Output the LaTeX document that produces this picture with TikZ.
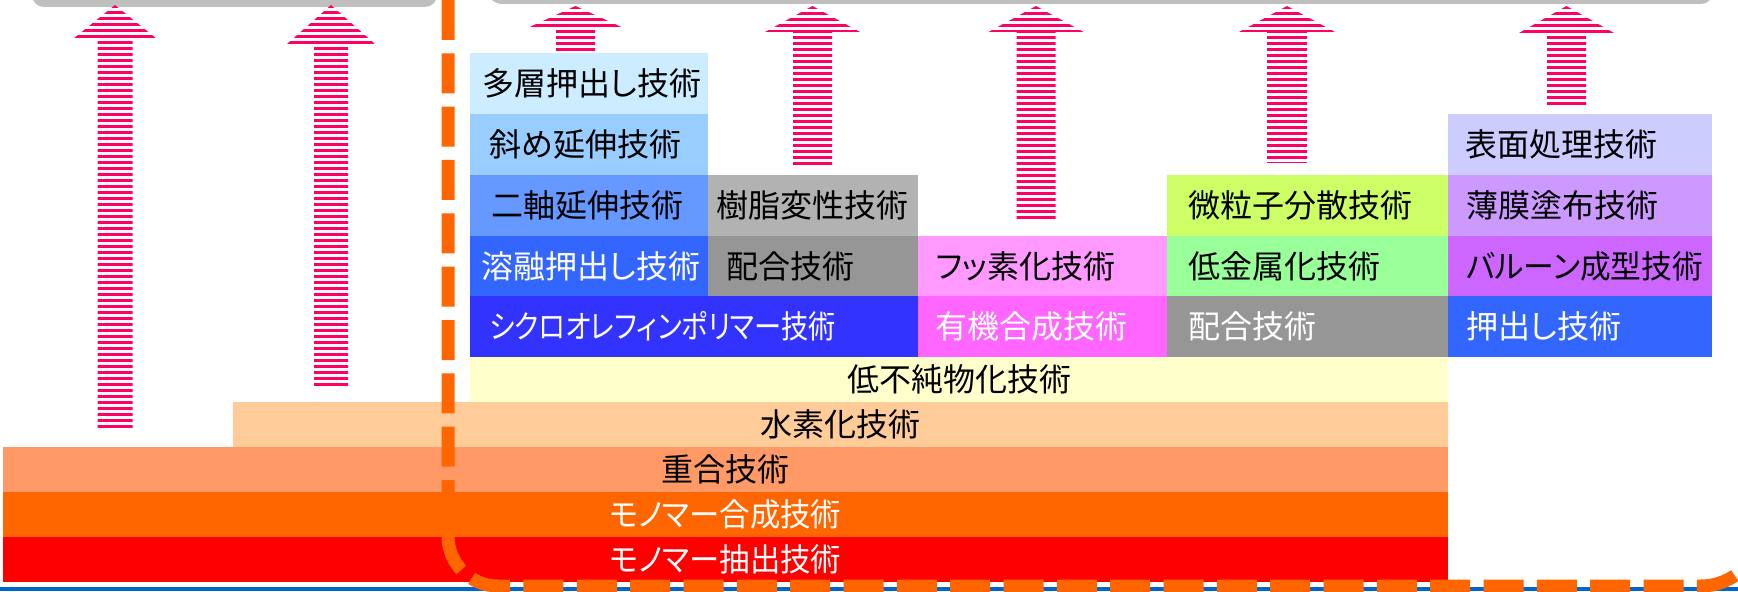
\documentclass[tikz,border=0pt]{standalone}
\usepackage{fontspec}
\newfontfamily\jpfont{Noto Sans CJK JP}[RawFeature={+palt}]
\definecolor{barGray}{HTML}{BFBFBF}
\definecolor{arrowPink}{HTML}{FF0066}
\definecolor{dashOrange}{HTML}{FF6600}
\definecolor{baseBlue}{HTML}{0066CC}
\definecolor{cA}{HTML}{CCECFF}
\definecolor{cB}{HTML}{99CCFF}
\definecolor{cC}{HTML}{6699FF}
\definecolor{cD}{HTML}{3366FF}
\definecolor{cE}{HTML}{B2B2B2}
\definecolor{cF}{HTML}{969696}
\definecolor{cG}{HTML}{3333FF}
\definecolor{cH}{HTML}{FF99FF}
\definecolor{cI}{HTML}{FF66FF}
\definecolor{cJ}{HTML}{CCFF66}
\definecolor{cK}{HTML}{99FF99}
\definecolor{cL}{HTML}{CCCCFF}
\definecolor{cM}{HTML}{CC99FF}
\definecolor{cN}{HTML}{CC66FF}
\definecolor{cO}{HTML}{FFFFCC}
\definecolor{cP}{HTML}{FFCC99}
\definecolor{cQ}{HTML}{FF9966}
\definecolor{cR}{HTML}{FF6600}
\definecolor{cS}{HTML}{FF0000}
% cx, tip y, head base y, head half width, shaft half width, bottom y
\newcommand{\stripedarrow}[6]{%
  \begin{scope}
    \clip (#1,#2) -- ({#1+#4},#3) -- ({#1+#5},#3) -- ({#1+#5},#6)
      -- ({#1-#5},#6) -- ({#1-#5},#3) -- ({#1-#4},#3) -- cycle;
    \pgfmathtruncatemacro\nst{(#6-#2)/6}
    \foreach \k in {0,...,\nst}{%
      \fill[arrowPink] ({#1-#4},{#2+6*\k}) rectangle ({#1+#4},{#2+6*\k+3.2});}
  \end{scope}}
\tikzset{
  lbl/.style={anchor=west, inner sep=0pt, font=\jpfont\fontsize{16}{19}\selectfont},
  clbl/.style={anchor=center, inner sep=0pt, font=\jpfont\fontsize{16}{19}\selectfont},
  wt/.style={text=white},
  topbar/.style={fill=barGray, rounded corners=6pt},
  orangedash/.style={draw=dashOrange, line width=6.5pt, dash pattern=on 20pt off 6.667pt}
}
\begin{document}
\begin{tikzpicture}[x=0.5pt,y=-0.5pt]
\useasboundingbox (0,0) rectangle (1738,592);
\begin{scope}
\clip (0,0) rectangle (1738,592);
% top gray bars
\fill[topbar] (32,-30) rectangle (437,7);
\fill[topbar] (489,-30) rectangle (1713,4);
% striped arrows
\stripedarrow{115}{5}{41}{44.5}{17.5}{430}
\stripedarrow{331}{5}{44}{44}{17}{387}
\stripedarrow{575.5}{6}{28}{48}{19.5}{60}
\stripedarrow{812.5}{6}{32}{47.5}{19.5}{166}
\stripedarrow{1036}{6}{32}{47.5}{19.5}{219}
\stripedarrow{1287}{6}{32}{48}{20}{163}
\stripedarrow{1566.5}{6}{33}{47.5}{19.5}{105}
% blocks column 1
\fill[cA] (470,53) rectangle (708,114);
\fill[cB] (470,114) rectangle (708,175);
\fill[cC] (470,175) rectangle (708,236);
\fill[cD] (470,236) rectangle (708,296);
% column 2
\fill[cE] (708,175) rectangle (918,236);
\fill[cF] (708,236) rectangle (918,296);
\fill[cG] (470,296) rectangle (918,357);
% column 3
\fill[cH] (918,236) rectangle (1167,296);
\fill[cI] (918,296) rectangle (1167,357);
% column 4
\fill[cJ] (1167,175) rectangle (1448,236);
\fill[cK] (1167,236) rectangle (1448,296);
\fill[cF] (1167,296) rectangle (1448,357);
% column 5
\fill[cL] (1448,114) rectangle (1712,175);
\fill[cM] (1448,175) rectangle (1712,236);
\fill[cN] (1448,236) rectangle (1712,296);
\fill[cD] (1448,296) rectangle (1712,357);
% base layers
\fill[cO] (470,357) rectangle (1448,402);
\fill[cP] (233,402) rectangle (1448,447);
\fill[cQ] (3,447) rectangle (1448,492);
\fill[cR] (3,492) rectangle (1448,537);
\fill[cS] (3,537) rectangle (1448,582);
% labels
\node[lbl] (t01) at (482,83.5) {多層押出し技術};
\node[lbl] (t02) at (489,144.5) {斜め延伸技術};
\node[lbl] (t03) at (491,205.5) {二軸延伸技術};
\node[lbl,wt] (t04) at (481,266) {溶融押出し技術};
\node[lbl] (t05) at (716,205.5) {樹脂変性技術};
\node[lbl] (t06) at (726,266) {配合技術};
\node[lbl,wt] (t07) at (489,326.5) {\scalebox{0.85}[1]{シクロオレフィンポリマー技術}};
\node[lbl] (t08) at (935,266) {フッ素化技術};
\node[lbl,wt] (t09) at (935,326.5) {有機合成技術};
\node[lbl] (t10) at (1188,205.5) {微粒子分散技術};
\node[lbl] (t11) at (1188,266) {低金属化技術};
\node[lbl,wt] (t12) at (1188,326.5) {配合技術};
\node[lbl] (t13) at (1465,144.5) {表面処理技術};
\node[lbl] (t14) at (1466,205.5) {薄膜塗布技術};
\node[lbl] (t15) at (1466,266) {\scalebox{0.96}[1]{バルーン成型技術}};
\node[lbl,wt] (t16) at (1466,326.5) {押出し技術};
\node[clbl] (t17) at (959.5,379.5) {低不純物化技術};
\node[clbl] (t18) at (840.5,424.5) {水素化技術};
\node[clbl] (t19) at (725.5,469.5) {重合技術};
\node[clbl,wt] (t20) at (725.5,514.5) {\scalebox{0.95}[1]{モノマー合成技術}};
\node[clbl,wt] (t21) at (725.5,559.5) {\scalebox{0.95}[1]{モノマー抽出技術}};
% baseline
\fill[baseBlue] (0,586.5) rectangle (1738,590.5);
% orange dashed boundary
\draw[orangedash] (448,0) -- (448,536) arc[start angle=180,end angle=90,radius=50]
  -- (1701,586) arc[start angle=90,end angle=0,radius=60] -- (1761,0);
\end{scope}
\end{tikzpicture}
\end{document}
